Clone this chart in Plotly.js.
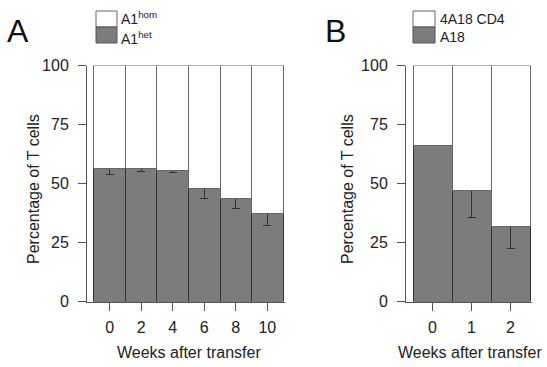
<!DOCTYPE html>
<html>
<head>
<meta charset="utf-8">
<script src="https://cdn.plot.ly/plotly-3.0.1.min.js"></script>
<style>html,body{margin:0;padding:0;background:#fff}#chart{width:547px;height:367px}</style>
</head>
<body>
<div id="chart"></div>
<script>
// Panel A data
const weeksA = ['0', '2', '4', '6', '8', '10'];
const hetA = [56.5, 56.5, 55.5, 47.9, 43.5, 37.4];
const errA = [2.5, 1.5, 0.8, 4.1, 4.3, 5.2];
const plusA = [0, 0, 0, 0, 0, 0];
// Panel B data
const weeksB = ['0', '1', '2'];
const a18B = [66.2, 47.1, 31.6];
const errB = [0, 11.7, 9.3];
const plusB = [0, 0, 0];

const homA = hetA.map(v => 100 - v);
const cd4B = a18B.map(v => 100 - v);

const W = 547, H = 367;
const px = v => v / W;
const py = v => (H - v) / H;

const GRAY = '#7c7c7c';
const DARK = '#333333';
const AX = '#555555';
const TXT = '#222222';
const FONT = 'Liberation Sans, Arial, sans-serif';

function errBar(minus, plus) {
  return {type: 'data', symmetric: false, array: plus, arrayminus: minus,
          color: DARK, thickness: 1, width: 4};
}

const traces = [
  {type: 'bar', x: weeksA, y: hetA, xaxis: 'x', yaxis: 'y',
   marker: {color: GRAY, line: {color: DARK, width: 1}},
   error_y: errBar(errA, plusA), hoverinfo: 'skip', showlegend: false},
  {type: 'bar', x: weeksA, y: homA, xaxis: 'x', yaxis: 'y',
   marker: {color: '#ffffff', line: {color: '#666666', width: 1}},
   hoverinfo: 'skip', showlegend: false},
  {type: 'bar', x: weeksB, y: a18B, xaxis: 'x2', yaxis: 'y2',
   marker: {color: GRAY, line: {color: DARK, width: 1}},
   error_y: errBar(errB, plusB), hoverinfo: 'skip', showlegend: false},
  {type: 'bar', x: weeksB, y: cd4B, xaxis: 'x2', yaxis: 'y2',
   marker: {color: '#ffffff', line: {color: '#666666', width: 1}},
   hoverinfo: 'skip', showlegend: false}
];

const yDom = [py(301.5), py(65.5)];

function xAxis(domain, range, anchor) {
  return {domain: domain, range: range, anchor: anchor, type: 'category',
          showline: true, linecolor: AX, linewidth: 1, showgrid: false, zeroline: false,
          ticks: 'outside', ticklen: 8, tickcolor: AX, tickwidth: 1,
          ticklabelstandoff: 3,
          tickfont: {family: FONT, size: 16, color: TXT}, fixedrange: true};
}
function yAxis(anchor) {
  return {domain: yDom, range: [0, 100], anchor: anchor,
          tickvals: [0, 25, 50, 75, 100], ticktext: ['0', '25', '50', '75', '100'],
          showline: true, linecolor: AX, linewidth: 1, showgrid: false, zeroline: false,
          ticks: 'outside', ticklen: 8, tickcolor: AX, tickwidth: 1,
          ticklabelstandoff: 6,
          tickfont: {family: FONT, size: 16, color: TXT}, fixedrange: true};
}

const ann = (x, y, text, opts) => Object.assign({
  xref: 'paper', yref: 'paper', x: px(x), y: py(y), text: text, showarrow: false,
  font: {family: FONT, size: 16, color: TXT}, xanchor: 'center', yanchor: 'middle'
}, opts || {});

const legFont = {family: FONT, size: 14, color: TXT};
const annotations = [
  ann(18, 31, 'A', {font: {family: FONT, size: 32, color: '#111'}}),
  ann(335, 31, 'B', {font: {family: FONT, size: 32, color: '#111'}}),
  ann(120, 28, 'A1<sup>hom</sup>', {xanchor: 'left', yanchor: 'bottom', borderpad: 0, font: legFont}),
  ann(120, 28, 'A1<sup>het</sup>', {xanchor: 'left', yanchor: 'top', borderpad: 0, font: legFont}),
  ann(439, 28, '4A18 CD4', {xanchor: 'left', yanchor: 'bottom', borderpad: 0, font: legFont}),
  ann(439, 28, 'A18', {xanchor: 'left', yanchor: 'top', borderpad: 0, font: legFont}),
  ann(34, 189, 'Percentage of T cells', {textangle: -90}),
  ann(348, 189, 'Percentage of T cells', {textangle: -90}),
  ann(189, 352.5, 'Weeks after transfer'),
  ann(470, 352.5, 'Weeks after transfer')
];

const box = (x0, y0, x1, y1, fill, line) => ({type: 'rect', xref: 'paper', yref: 'paper',
  x0: px(x0), x1: px(x1), y0: py(y1), y1: py(y0), fillcolor: fill,
  line: {color: line, width: 1}});

const shapes = [
  box(96, 11, 117, 27, '#ffffff', '#666666'),
  box(96, 27, 117, 43, GRAY, '#555555'),
  box(413, 11, 435, 27, '#ffffff', '#666666'),
  box(413, 27, 435, 43, GRAY, '#555555')
];

const layout = {
  width: W, height: H, margin: {l: 0, r: 0, t: 0, b: 0},
  paper_bgcolor: '#ffffff', plot_bgcolor: 'rgba(0,0,0,0)',
  barmode: 'stack', bargap: 0, showlegend: false,
  xaxis: xAxis([px(87), px(285)], [-0.72, 5.56], 'y'),
  yaxis: yAxis('x'),
  xaxis2: xAxis([px(406), px(532)], [-0.68, 2.55], 'y2'),
  yaxis2: yAxis('x2'),
  annotations: annotations, shapes: shapes
};

Plotly.newPlot('chart', traces, layout, {displayModeBar: false, staticPlot: true});
</script>
</body>
</html>
